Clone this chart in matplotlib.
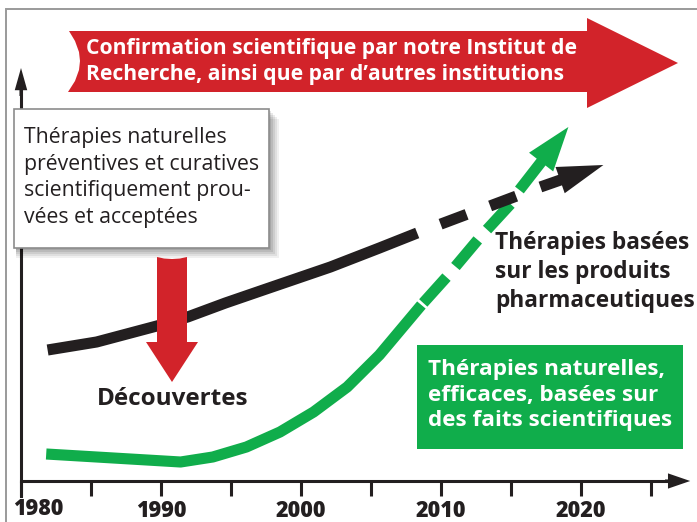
import matplotlib
matplotlib.use("Agg")
import matplotlib.pyplot as plt
from matplotlib.patches import Polygon, Rectangle

# ---------------- data ----------------
black_years_solid = [1981.9, 1985.4, 1989.7, 1991.9, 1994.6, 1997.3, 2002.1, 2005.6, 2008.3]
black_level_solid = [131, 139, 155, 164, 178, 191, 214, 233, 248]
black_years_dash = [2008.3, 2010.0, 2011.9, 2013.5, 2015.4]
black_level_dash = [248, 257, 267, 275, 285]
black_arrow_years = [2017.1, 2021.6]
black_arrow_level = [294, 316]

green_years_solid = [1981.8, 1986.6, 1991.4, 1993.7, 1996.1, 1998.5, 2000.9, 2003.3, 2005.6, 2008.0, 2008.6]
green_level_solid = [27, 23, 19, 24, 34, 49, 69, 94, 126, 166, 176]
green_years_dash = [2008.6, 2010.4, 2012.8, 2015.1]
green_level_dash = [176, 204, 244, 279]
green_arrow_years = [2015.6, 2019.1]
green_level_arrow = [291, 354]

major_ticks = [1980, 1990, 2000, 2010, 2020]
major_labels = ["", "1990", "2000", "2010", "2020"]
first_label = "1980"
minor_ticks = [1985, 1995, 2005, 2015, 2025]

banner_text = "Confirmation scientifique par notre Institut de\nRecherche, ainsi que par d\u2019autres institutions"
box_text = "Th\u00e9rapies naturelles\npr\u00e9ventives et curatives\nscientifiquement prou-\nv\u00e9es et accept\u00e9es"
pharma_text = "Th\u00e9rapies bas\u00e9es\nsur les produits\npharmaceutiques"
green_text = "Th\u00e9rapies naturelles,\nefficaces, bas\u00e9es sur\ndes faits scientifiques"
down_text = "D\u00e9couvertes"

# ---------------- style ----------------
W, H = 697, 522
DARK = "#231f20"
RED = "#d2232a"
GREEN = "#10ad4b"
FONT = "Open Sans"
plt.rcParams["font.family"] = [FONT, "DejaVu Sans"]
plt.rcParams["lines.scale_dashes"] = False

fig = plt.figure(figsize=(W / 100, H / 100), dpi=100)
fig.patch.set_facecolor("white")
ax = fig.add_axes([0, 0, 1, 1])
ax.set_xlim(1978.5, 1978.5 + W / 14)
ax.set_ylim(-41, 481)
ax.set_facecolor("white")


def P(x, y):
    return (x / W, 1 - y / H)


# gray frame
ax.plot([P(6, 0)[0], P(6, 9)[0], 1.0], [0, P(6, 9)[1], P(6, 9)[1]],
        transform=ax.transAxes, color="#9a9a9a", lw=1.4, zorder=1, solid_joinstyle="miter")

# axes via spines
for s in ["top", "right"]:
    ax.spines[s].set_visible(False)
ax.spines["bottom"].set_position(("data", 0))
ax.spines["left"].set_position(("data", 1980))
ax.spines["bottom"].set_bounds(1980, 2027)
ax.spines["left"].set_bounds(-15, 395)
for s in ["bottom", "left"]:
    ax.spines[s].set_linewidth(2.2)
    ax.spines[s].set_color(DARK)
    ax.spines[s].set_zorder(2)
ax.set_yticks([])
ax.set_xticks(major_ticks)
ax.set_xticklabels(major_labels)
ax.set_xticks(minor_ticks, minor=True)
ax.tick_params(axis="x", which="both", direction="out", length=10.8, width=2.2,
               color=DARK, pad=2)
TICKFONT = dict(family=[FONT, "DejaVu Sans"], weight="heavy", size=15.5)
for lab in ax.get_xticklabels():
    lab.set_fontfamily(TICKFONT["family"])
    lab.set_fontweight(TICKFONT["weight"])
    lab.set_fontsize(TICKFONT["size"])
    lab.set_color(DARK)
ax.text(P(38.5, 0)[0], P(0, 509)[1], first_label, transform=ax.transAxes, ha="center", va="center",
        fontfamily=TICKFONT["family"], fontweight=TICKFONT["weight"], fontsize=TICKFONT["size"],
        color=DARK)

# axis arrow heads
ax.annotate("", xy=(2027.8, 0), xytext=(2026.0, 0),
            arrowprops=dict(arrowstyle="simple,head_length=16,head_width=11,tail_width=2.2",
                            mutation_scale=1, color=DARK, shrinkA=0, shrinkB=0, lw=0), zorder=2)
ax.annotate("", xy=(1980, 413), xytext=(1980, 385),
            arrowprops=dict(arrowstyle="simple,head_length=16,head_width=9,tail_width=2.2",
                            mutation_scale=1, color=DARK, shrinkA=0, shrinkB=0, lw=0), zorder=2)

LW = 8.0
# green curve
ax.plot(green_years_solid, green_level_solid, color=GREEN, lw=LW, solid_capstyle="butt",
        solid_joinstyle="round", zorder=4)
ax.plot(green_years_dash, green_level_dash, color=GREEN, lw=LW, dash_capstyle="butt",
        linestyle=(33, (25, 10)), zorder=4)
ax.annotate("", xy=(green_arrow_years[1], green_level_arrow[1]),
            xytext=(green_arrow_years[0], green_level_arrow[0]),
            arrowprops=dict(arrowstyle="simple,head_length=32,head_width=22,tail_width=8",
                            mutation_scale=1, color=GREEN, shrinkA=0, shrinkB=0, lw=0), zorder=4)

# black curve
ax.plot(black_years_solid, black_level_solid, color=DARK, lw=LW, solid_capstyle="butt",
        solid_joinstyle="round", zorder=5)
ax.plot(black_years_dash, black_level_dash, color=DARK, lw=LW, dash_capstyle="butt",
        linestyle=(20, (20, 18)), zorder=5)
ax.annotate("", xy=(black_arrow_years[1], black_arrow_level[1]),
            xytext=(black_arrow_years[0], black_arrow_level[0]),
            arrowprops=dict(arrowstyle="simple,head_length=33,head_width=20,tail_width=8",
                            mutation_scale=1, color=DARK, shrinkA=0, shrinkB=0, lw=0), zorder=5)

# top banner arrow
banner = [(69, 31), (75, 41), (79, 52), (80, 61), (79, 70), (75, 81), (68, 92), (587, 92),
          (587, 108), (678, 63), (587, 18), (587, 31)]
ax.add_patch(Polygon([P(*p) for p in banner], closed=True, transform=ax.transAxes,
                     facecolor=RED, edgecolor="none", zorder=6))
ax.text(P(86, 0)[0], P(0, 61.5)[1], banner_text, transform=ax.transAxes, ha="left", va="center",
        color="white", fontweight="bold", fontsize=15.2, linespacing=1.28, zorder=7)

# box with shadow
for i, a in enumerate([0.06, 0.07, 0.08, 0.09, 0.10]):
    d = 10 - i * 2
    ax.add_patch(Rectangle(P(14 + 2, 248 + d), (255 + d - 2) / W, (139) / H,
                           transform=ax.transAxes, facecolor="black", alpha=a,
                           edgecolor="none", zorder=6))
ax.add_patch(Rectangle(P(14, 248), 255 / W, 139 / H, transform=ax.transAxes,
                       facecolor="white", edgecolor="#8c8c8c", lw=1.2, zorder=7))
ax.text(P(24, 0)[0], P(0, 177.5)[1], box_text, transform=ax.transAxes, ha="left", va="center",
        color=DARK, fontsize=15.3, linespacing=1.36, zorder=8)

# red down arrow
down = [(157, 257), (164, 258.5), (172, 259), (180, 258.5), (187, 257), (187, 342), (198, 342),
        (172, 382), (146, 342), (157, 342)]
ax.add_patch(Polygon([P(*p) for p in down], closed=True, transform=ax.transAxes,
                     facecolor=RED, edgecolor="none", zorder=6))
ax.text(P(97, 0)[0], P(0, 399)[1], down_text, transform=ax.transAxes, ha="left", va="center",
        color=DARK, fontweight="bold", fontsize=17.5, zorder=8)

# pharma text
ax.text(P(495, 0)[0], P(0, 272)[1], pharma_text, transform=ax.transAxes, ha="left", va="center",
        color=DARK, fontweight="bold", fontsize=16.3, linespacing=1.26, zorder=8)

# green box
ax.add_patch(Rectangle(P(417, 449), 266 / W, 104 / H, transform=ax.transAxes,
                       facecolor=GREEN, edgecolor="none", zorder=7))
ax.text(P(428, 0)[0], P(0, 395)[1], green_text, transform=ax.transAxes, ha="left", va="center",
        color="white", fontweight="bold", fontsize=16.2, linespacing=1.31, zorder=8)

fig.savefig("out.png", dpi=100, facecolor="white")
